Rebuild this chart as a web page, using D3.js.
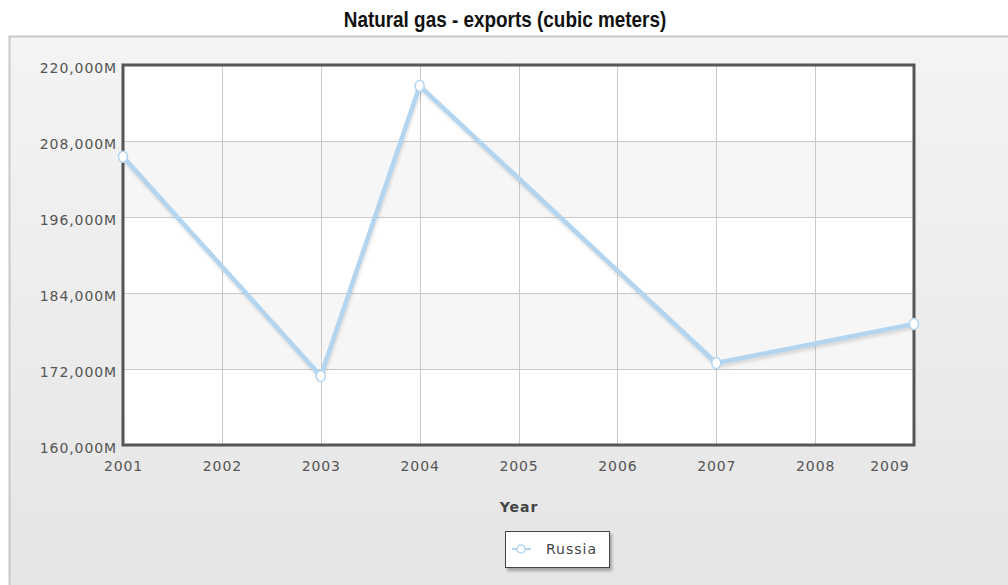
<!DOCTYPE html>
<html>
<head>
<meta charset="utf-8">
<script src="https://cdn.jsdelivr.net/npm/d3@7"></script>
<style>
  body { margin: 0; background: #fff; }
  svg { display: block; }
  .tick-label { font-family: "DejaVu Sans", Verdana, sans-serif; font-size: 14px; letter-spacing: 0.9px; fill: #555; }
</style>
</head>
<body>
<div id="chart"></div>
<script>
var years = [2001, 2002, 2003, 2004, 2005, 2006, 2007, 2008, 2009];
var dataYears = [2001, 2003, 2004, 2007, 2009];
var russia = [205500, 170900, 216700, 172950, 179100];   // million cubic meters
var yTicks = [160000, 172000, 184000, 196000, 208000, 220000];
var seriesName = 'Russia';

var width = 1008, height = 585;
var plot = { left: 123, top: 65, right: 914, bottom: 445 };

var svg = d3.select('#chart')
    .append('svg')
    .attr('width', width)
    .attr('height', height);

var defs = svg.append('defs');

var bg = defs.append('linearGradient')
    .attr('id', 'panel-bg')
    .attr('x1', 0).attr('y1', 0).attr('x2', 0).attr('y2', 1);
bg.append('stop').attr('offset', '0%').attr('stop-color', '#f4f4f4');
bg.append('stop').attr('offset', '100%').attr('stop-color', '#e4e4e4');

var shadow = defs.append('filter')
    .attr('id', 'shadow')
    .attr('x', '-20%').attr('y', '-20%').attr('width', '140%').attr('height', '160%');
shadow.append('feDropShadow')
    .attr('dx', 2).attr('dy', 3)
    .attr('stdDeviation', 1.5)
    .attr('flood-color', '#000')
    .attr('flood-opacity', 0.3);

// title (condensed)
svg.append('text')
    .attr('transform', 'translate(' + (width / 2 + 1) + ',27) scale(0.86,1)')
    .attr('text-anchor', 'middle')
    .style('font-family', '"Liberation Sans Narrow", "Arial Narrow", sans-serif')
    .style('font-weight', 'bold')
    .style('font-size', '22px')
    .style('fill', '#111')
    .text('Natural gas - exports (cubic meters)');

// outer panel
svg.append('rect')
    .attr('x', 9.5)
    .attr('y', 36.5)
    .attr('width', width)
    .attr('height', height)
    .attr('fill', 'url(#panel-bg)')
    .attr('stroke', '#c8c8c8')
    .attr('stroke-width', 2);

var x = d3.scaleLinear()
    .domain([years[0], years[years.length - 1]])
    .range([plot.left, plot.right]);

var y = d3.scaleLinear()
    .domain([yTicks[0], yTicks[yTicks.length - 1]])
    .range([plot.bottom, plot.top]);

// plot background + bands
svg.append('rect')
    .attr('x', plot.left)
    .attr('y', plot.top)
    .attr('width', plot.right - plot.left)
    .attr('height', plot.bottom - plot.top)
    .attr('fill', '#fff');

svg.append('g')
    .selectAll('rect')
    .data([[196000, 208000], [172000, 184000]])
    .enter()
    .append('rect')
    .attr('x', plot.left)
    .attr('y', function(d) { return y(d[1]); })
    .attr('width', plot.right - plot.left)
    .attr('height', function(d) { return y(d[0]) - y(d[1]); })
    .attr('fill', '#f6f6f6');

// grid
svg.append('g')
    .selectAll('line')
    .data(yTicks)
    .enter()
    .append('line')
    .attr('x1', plot.left).attr('x2', plot.right)
    .attr('y1', function(d) { return Math.round(y(d)) + 0.5; })
    .attr('y2', function(d) { return Math.round(y(d)) + 0.5; })
    .attr('stroke', '#c8c8c8');

svg.append('g')
    .selectAll('line')
    .data(years)
    .enter()
    .append('line')
    .attr('y1', plot.top).attr('y2', plot.bottom)
    .attr('x1', function(d) { return Math.round(x(d)) + 0.5; })
    .attr('x2', function(d) { return Math.round(x(d)) + 0.5; })
    .attr('stroke', '#c8c8c8');

// plot border
svg.append('rect')
    .attr('x', plot.left)
    .attr('y', plot.top)
    .attr('width', plot.right - plot.left)
    .attr('height', plot.bottom - plot.top)
    .attr('fill', 'none')
    .attr('stroke', '#555')
    .attr('stroke-width', 3);

// y axis labels
var yAxis = d3.axisLeft(y)
    .tickValues(yTicks)
    .tickSize(0)
    .tickPadding(5)
    .tickFormat(function(d) { return d3.format(',')(d) + 'M'; });

svg.append('g')
    .attr('transform', 'translate(' + (plot.left - 1) + ',3)')
    .call(yAxis)
    .call(function(g) { g.select('.domain').remove(); })
    .selectAll('text')
    .attr('class', 'tick-label')
    .attr('font-family', null)
    .attr('font-size', null)
    .attr('fill', null);

// x axis labels
var xAxis = d3.axisBottom(x)
    .tickValues(years)
    .tickSize(0)
    .tickPadding(16)
    .tickFormat(d3.format('d'));

var xg = svg.append('g')
    .attr('transform', 'translate(0,' + plot.bottom + ')')
    .call(xAxis)
    .call(function(g) { g.select('.domain').remove(); });

xg.selectAll('text')
    .attr('class', 'tick-label')
    .attr('font-family', null)
    .attr('font-size', null)
    .attr('fill', null);

// last label pulled inside the plot edge
xg.selectAll('.tick')
    .filter(function(d) { return d === years[years.length - 1]; })
    .select('text')
    .attr('text-anchor', 'end')
    .attr('dx', -5);

svg.append('text')
    .attr('x', 519)
    .attr('y', 512)
    .attr('text-anchor', 'middle')
    .style('font-family', '"DejaVu Sans", Verdana, sans-serif')
    .style('font-weight', 'bold')
    .style('font-size', '14px')
    .style('letter-spacing', '1px')
    .style('fill', '#444')
    .text('Year');

// series
var points = dataYears.map(function(yr, i) { return { year: yr, value: russia[i] }; });

var line = d3.line()
    .x(function(d) { return x(d.year); })
    .y(function(d) { return y(d.value); });

svg.append('path')
    .datum(points)
    .attr('d', line)
    .attr('transform', 'translate(1,3)')
    .attr('fill', 'none')
    .attr('stroke', '#000')
    .attr('stroke-opacity', 0.12)
    .attr('stroke-width', 4)
    .attr('stroke-linejoin', 'round')
    .style('filter', 'blur(1.5px)');

svg.append('path')
    .datum(points)
    .attr('d', line)
    .attr('fill', 'none')
    .attr('stroke', '#b3d5f0')
    .attr('stroke-width', 4.5)
    .attr('stroke-linejoin', 'round');

svg.append('g')
    .selectAll('ellipse')
    .data(points)
    .enter()
    .append('ellipse')
    .attr('cx', function(d) { return x(d.year); })
    .attr('cy', function(d) { return y(d.value); })
    .attr('rx', 4.5)
    .attr('ry', 5.5)
    .attr('fill', '#fff')
    .attr('stroke', '#b3d5f0')
    .attr('stroke-width', 1.5);

// legend
var legend = svg.append('g').attr('transform', 'translate(505,531)');
legend.append('rect')
    .attr('x', 0.5).attr('y', 0.5)
    .attr('width', 104).attr('height', 36)
    .attr('fill', '#fff')
    .attr('stroke', '#444')
    .attr('stroke-width', 1)
    .attr('filter', 'url(#shadow)');
legend.append('line')
    .attr('x1', 7).attr('x2', 26)
    .attr('y1', 18).attr('y2', 18)
    .attr('stroke', '#b3d5f0')
    .attr('stroke-width', 2);
legend.append('circle')
    .attr('cx', 16).attr('cy', 18)
    .attr('r', 4)
    .attr('fill', '#fff')
    .attr('stroke', '#b3d5f0')
    .attr('stroke-width', 1.5);
legend.append('text')
    .attr('x', 41)
    .attr('y', 23)
    .style('font-family', '"DejaVu Sans", Verdana, sans-serif')
    .style('font-size', '14px')
    .style('letter-spacing', '1px')
    .style('fill', '#444')
    .text(seriesName);
</script>
</body>
</html>
